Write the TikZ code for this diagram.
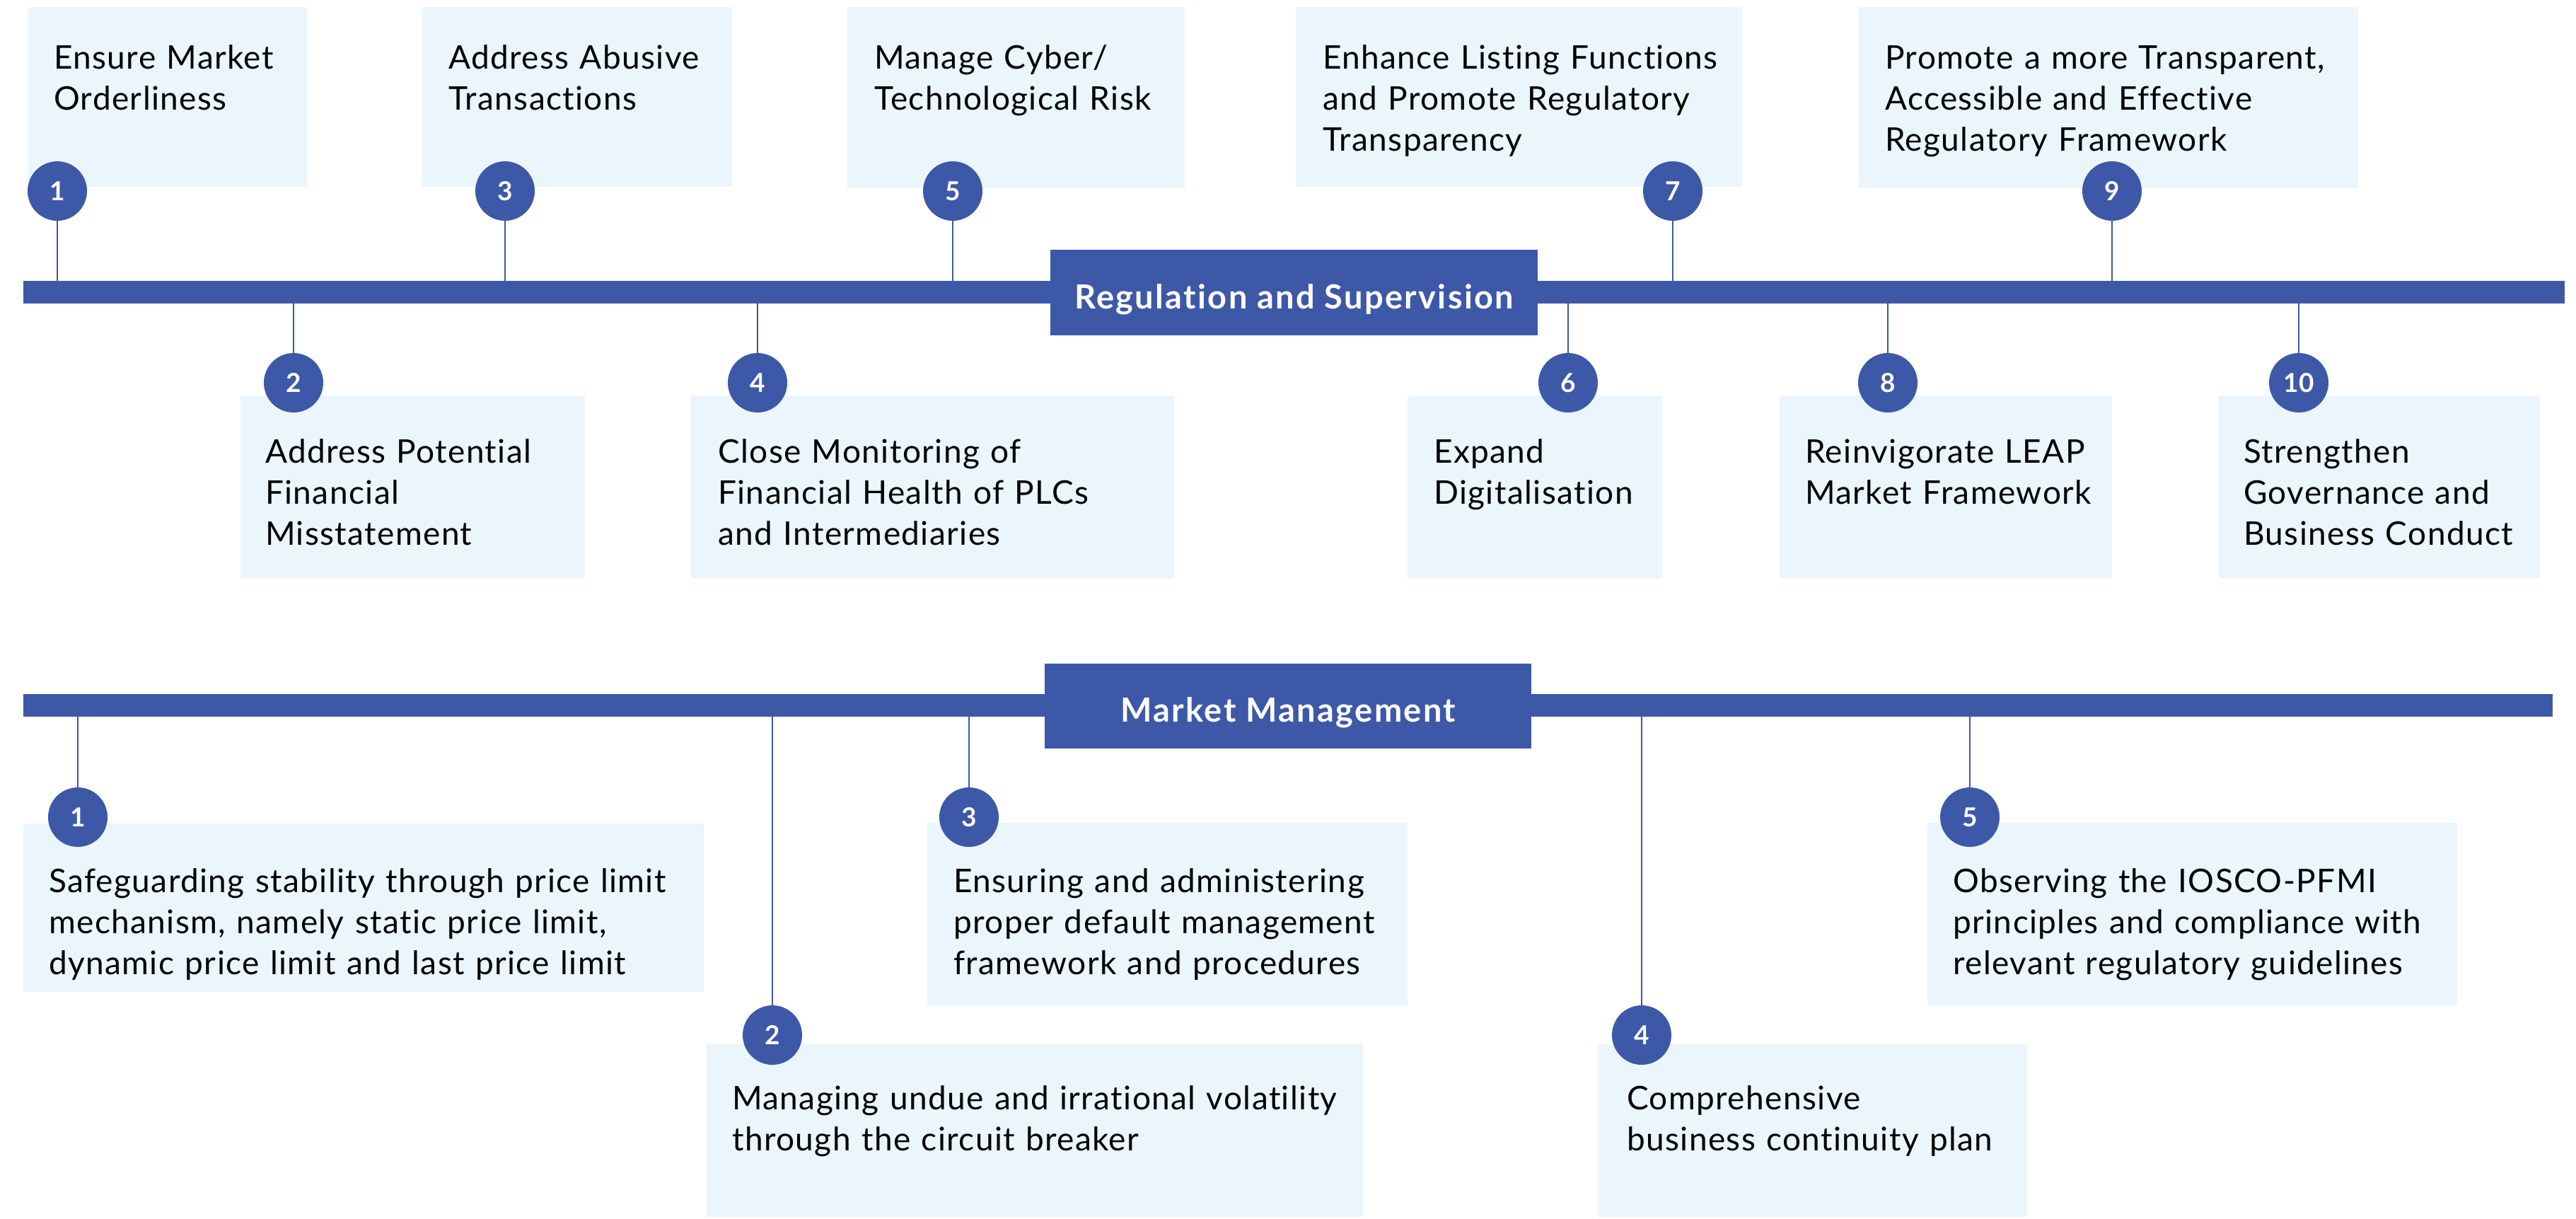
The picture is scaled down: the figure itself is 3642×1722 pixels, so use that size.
\documentclass[tikz,border=0pt]{standalone}
\usepackage{fontspec}
\setmainfont{Lato}
\newfontfamily\bodyfont[LetterSpace=3,Ligatures=CommonOff]{Lato}
\newfontfamily\headfont[LetterSpace=5,Ligatures=CommonOff]{Lato}
\definecolor{navy}{RGB}{62,88,168}
\definecolor{pale}{RGB}{234,245,252}
\tikzset{
  box/.style={fill=pale, draw=none, inner sep=0pt, anchor=north west},
  txt/.style={anchor=base west, inner sep=0pt, text width=1000pt, align=left, font=\bodyfont\fontsize{46}{58}\selectfont},
  num/.style={circle, fill=navy, text=white, minimum size=84pt, inner sep=0pt, font=\fontsize{37}{37}\selectfont\bfseries},
  conn/.style={draw=navy, line width=2.5pt},
  bar/.style={fill=navy, inner sep=0pt, anchor=north west},
  head/.style={fill=navy, text=white, inner sep=0pt, anchor=north west, text height=45pt, text depth=0pt, font=\headfont\fontsize{47}{47}\selectfont\bfseries},
}
\begin{document}
\begin{tikzpicture}[x=1pt,y=-1pt]
\useasboundingbox (0,0) rectangle (3642,1722);
% ---------------- Regulation and Supervision ----------------
% top boxes
\node[box, minimum width=394pt, minimum height=254pt] (rb1) at (40,10) {};
\node[box, minimum width=438pt, minimum height=254pt] (rb3) at (597,10) {};
\node[box, minimum width=477pt, minimum height=256pt] (rb5) at (1198,10) {};
\node[box, minimum width=631pt, minimum height=254pt] (rb7) at (1832,10) {};
\node[box, minimum width=706pt, minimum height=256pt] (rb9) at (2628,10) {};
% bottom boxes
\node[box, minimum width=487pt, minimum height=258pt] (rb2) at (340,559) {};
\node[box, minimum width=683pt, minimum height=258pt] (rb4) at (977,559) {};
\node[box, minimum width=360pt, minimum height=258pt] (rb6) at (1990,559) {};
\node[box, minimum width=470pt, minimum height=258pt] (rb8) at (2516,559) {};
\node[box, minimum width=454pt, minimum height=258pt] (rb10) at (3137,559) {};
% texts
\node[txt] (rt1) at (76,97) {Ensure Market\\Orderliness};
\node[txt] (rt3) at (634,97) {Address Abusive\\Transactions};
\node[txt] (rt5) at (1236,97) {Manage Cyber/\\Technological Risk};
\node[txt] (rt7) at (1870,97) {Enhance Listing Functions\\and Promote Regulatory\\Transparency};
\node[txt] (rt9) at (2665,97) {Promote a more Transparent,\\Accessible and Effective\\Regulatory Framework};
\node[txt] (rt2) at (375,654) {Address Potential\\Financial\\Misstatement};
\node[txt] (rt4) at (1015,654) {Close Monitoring of\\Financial Health of PLCs\\and Intermediaries};
\node[txt] (rt6) at (2027,654) {Expand\\Digitalisation};
\node[txt] (rt8) at (2552,654) {Reinvigorate LEAP\\Market Framework};
\node[txt] (rt10) at (3172,654) {Strengthen\\Governance and\\Business Conduct};
% bar
\node[bar, minimum width=3593pt, minimum height=32pt] (rbar) at (33,397) {};
% circles
\node[num] (rc1) at (81,270) {1};
\node[num] (rc3) at (714,270) {3};
\node[num] (rc5) at (1347,270) {5};
\node[num] (rc7) at (2365,270) {7};
\node[num] (rc9) at (2986,270) {9};
\node[num] (rc2) at (415,541) {2};
\node[num] (rc4) at (1071,541) {4};
\node[num] (rc6) at (2217,541) {6};
\node[num] (rc8) at (2669,541) {8};
\node[num] (rc10) at (3250,541) {10};
\foreach \c in {rc1,rc3,rc5,rc7,rc9}{\draw[conn] (\c.south) -- (\c |- rbar.north);}
\foreach \c in {rc2,rc4,rc6,rc8,rc10}{\draw[conn] (\c.north) -- (\c |- rbar.south);}
\node[head, minimum width=689pt, minimum height=121pt] (rhead) at (1485,353) {Regulation and Supervision};
% ---------------- Market Management ----------------
\node[box, minimum width=962pt, minimum height=238pt] (mb1) at (33,1164) {};
\node[box, minimum width=679pt, minimum height=258pt] (mb3) at (1311,1163) {};
\node[box, minimum width=749pt, minimum height=258pt] (mb5) at (2725,1163) {};
\node[box, minimum width=928pt, minimum height=244pt] (mb2) at (999,1476) {};
\node[box, minimum width=607pt, minimum height=244pt] (mb4) at (2259,1476) {};
\node[txt] (mt1) at (69,1261) {Safeguarding stability through price limit\\mechanism, namely static price limit,\\dynamic price limit and last price limit};
\node[txt] (mt3) at (1348,1261) {Ensuring and administering\\proper default management\\framework and procedures};
\node[txt] (mt5) at (2761,1261) {Observing the IOSCO-PFMI\\principles and compliance with\\relevant regulatory guidelines};
\node[txt] (mt2) at (1035,1568) {Managing undue and irrational volatility\\through the circuit breaker};
\node[txt] (mt4) at (2300,1568) {Comprehensive\\business continuity plan};
\node[bar, minimum width=3576pt, minimum height=32pt] (mbar) at (33,981) {};
\node[num] (mc1) at (110,1155) {1};
\node[num] (mc3) at (1370,1155) {3};
\node[num] (mc5) at (2785,1155) {5};
\node[num] (mc2) at (1092,1463) {2};
\node[num] (mc4) at (2321,1463) {4};
\foreach \c in {mc1,mc2,mc3,mc4,mc5}{\draw[conn] (\c.north) -- (\c |- mbar.south);}
\node[head, minimum width=688pt, minimum height=120pt] (mhead) at (1477,938) {Market Management};
\end{tikzpicture}
\end{document}
